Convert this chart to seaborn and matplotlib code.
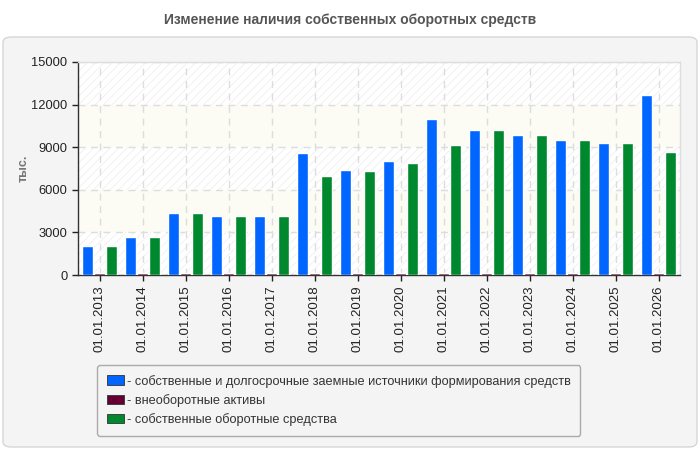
import pandas as pd
import numpy as np
import seaborn as sns
import matplotlib.pyplot as plt
from matplotlib.patches import Patch, FancyBboxPatch

# data
dates = ['01.01.2013', '01.01.2014', '01.01.2015', '01.01.2016', '01.01.2017',
         '01.01.2018', '01.01.2019', '01.01.2020', '01.01.2021', '01.01.2022',
         '01.01.2023', '01.01.2024', '01.01.2025', '01.01.2026']
sources = [2040, 2670, 4360, 4150, 4150, 8580, 7380, 8020, 10970, 10200, 9840, 9490, 9280, 12650]
noncurrent = [110, 110, 110, 110, 110, 110, 110, 110, 110, 110, 110, 110, 110, 110]
own_current = [2040, 2670, 4360, 4150, 4150, 6960, 7320, 7880, 9140, 10200, 9840, 9490, 9280, 8650]

series_names = ['- собственные и долгосрочные заемные источники формирования средств',
                '- внеоборотные активы',
                '- собственные оборотные средства']
colors = ['#0066ff', '#660033', '#00882e']
y_ticks = [0, 3000, 6000, 9000, 12000, 15000]

df = pd.DataFrame({
    'date': dates * 3,
    'value': sources + noncurrent + own_current,
    'series': [series_names[0]] * len(dates) + [series_names[1]] * len(dates) + [series_names[2]] * len(dates),
})

sns.set_style('white')
plt.rcParams['font.family'] = ['Liberation Sans', 'DejaVu Sans']
plt.rcParams['hatch.linewidth'] = 0.6

fig = plt.figure(figsize=(7, 4.5), dpi=100)
fig.patch.set_facecolor('white')

# grey rounded panel behind the chart
panel = FancyBboxPatch((3 / 700, 3 / 450), 694 / 700, 410 / 450,
                       boxstyle='round,pad=0,rounding_size=0.012',
                       transform=fig.transFigure, facecolor='#f4f4f4',
                       edgecolor='#d6d6d6', linewidth=1, zorder=-10)
fig.patches.append(panel)

fig.text(0.5, 1 - 20 / 450, 'Изменение наличия собственных оборотных средств',
         ha='center', va='center', fontsize=10, fontweight='bold', color='#555555')

ax = fig.add_axes([78 / 700, 1 - 275 / 450, 602 / 700, 213 / 450])
ax.set_facecolor('white')

# banded background
for i in range(len(y_ticks) - 1):
    if i % 2 == 0:
        ax.axhspan(y_ticks[i], y_ticks[i + 1], facecolor='white', hatch='////',
                   edgecolor='#efefef', linewidth=0, zorder=0)
    else:
        ax.axhspan(y_ticks[i], y_ticks[i + 1], facecolor='#fcfcf4', linewidth=0, zorder=0)

sns.barplot(data=df, x='date', y='value', hue='series', palette=colors,
            width=0.84, gap=0.08, saturation=1, ax=ax, legend=False, zorder=3)

ax.set_ylim(0, 15000)
ax.set_yticks(y_ticks)
ax.set_xlim(-0.5, len(dates) - 0.5)
ax.grid(True, color='#dddddd', linestyle=(0, (5, 4)), linewidth=1, zorder=1)
ax.set_axisbelow(True)
ax.set_xlabel('')
ax.set_ylabel('тыс.', fontsize=9, fontweight='bold', color='#777777')
ax.yaxis.set_label_coords(-0.08, 0.5)
ax.tick_params(axis='x', rotation=90, labelsize=9.5, colors='#222222', length=4, width=1, bottom=True)
ax.tick_params(axis='y', labelsize=9.3, colors='#222222', length=4, width=1, left=True)

for side in ['left', 'bottom']:
    ax.spines[side].set_color('#333333')
    ax.spines[side].set_linewidth(1)
for side in ['top', 'right']:
    ax.spines[side].set_color('#dddddd')
    ax.spines[side].set_linewidth(1)

handles = [Patch(facecolor=c, edgecolor='#333333', linewidth=0.6) for c in colors]
leg = fig.legend(handles, series_names, loc='upper left',
                 bbox_to_anchor=(97 / 700, 1 - 365 / 450), fontsize=9.2,
                 handlelength=1.4, handleheight=0.75, handletextpad=0.2,
                 labelspacing=0.5, borderpad=0.75, borderaxespad=0,
                 frameon=True, fancybox=True)
leg.get_frame().set_facecolor('#f4f4f4')
leg.get_frame().set_edgecolor('#aaaaaa')
leg.get_frame().set_alpha(1)
for t in leg.get_texts():
    t.set_color('#333333')

fig.savefig('out.png', dpi=100)
